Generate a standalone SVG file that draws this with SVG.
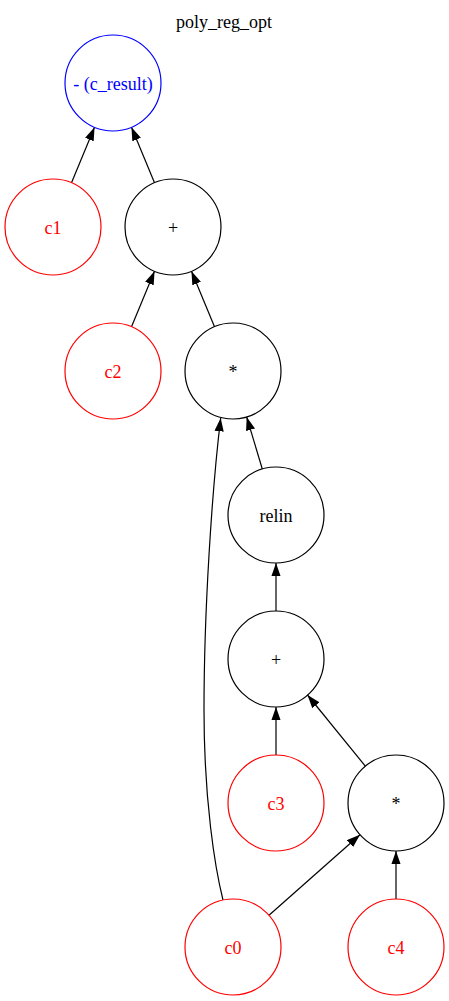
<svg xmlns="http://www.w3.org/2000/svg" width="449" height="1001" viewBox="0 0 449 1001">
<style>
text{font-family:"Liberation Serif","Times New Roman","DejaVu Serif",serif;font-size:18px;text-anchor:middle}
.n{fill:none;stroke:#000;stroke-width:1.2}
.r{fill:none;stroke:#ff0000;stroke-width:1.2}
.b{fill:none;stroke:#0000ff;stroke-width:1.2}
.tr{fill:#ff0000}
.tb{fill:#0000ff}
.e{fill:none;stroke:#000;stroke-width:1.2;marker-end:url(#ah)}
</style>
<defs>
<marker id="ah" viewBox="0 0 13.3 9.3" refX="13.3" refY="4.65" markerWidth="13.3" markerHeight="9.3" markerUnits="userSpaceOnUse" orient="auto">
<path d="M0,0 L13.3,4.65 L0,9.3 Z" fill="#000"/>
</marker>
</defs>
<rect width="449" height="1001" fill="#fff"/>
<text x="224" y="28">poly_reg_opt</text>
<g id="edges">
<path class="e" d="M71.5,182.7 L94.5,127.3"/>
<path class="e" d="M154.5,182.7 L131.5,127.3"/>
<path class="e" d="M131.5,326.7 L154.5,271.3"/>
<path class="e" d="M214.5,326.7 L191.5,271.3"/>
<path class="e" d="M262.3,469 L246.7,417"/>
<path class="e" d="M223,900 C215,868 204,800 204,710 C204,610 212,490 220.7,418"/>
<path class="e" d="M276,611 L276,563"/>
<path class="e" d="M276,755 L276,707"/>
<path class="e" d="M365.3,766.1 L307.5,695"/>
<path class="e" d="M269,915.2 L360,834.8"/>
<path class="e" d="M396,899 L396,851"/>
</g>
<g id="c_result"><circle class="b" cx="113" cy="83" r="48"/><text class="tb" x="113" y="89.5">- (c_result)</text></g>
<g id="c1"><circle class="r" cx="53" cy="227" r="48"/><text class="tr" x="53" y="233.5">c1</text></g>
<g id="add1"><circle class="n" cx="173" cy="227" r="48"/><text x="173" y="233.5">+</text></g>
<g id="c2"><circle class="r" cx="113" cy="371" r="48"/><text class="tr" x="113" y="377.5">c2</text></g>
<g id="mul1"><circle class="n" cx="233" cy="371" r="48"/><text x="233" y="377.5">*</text></g>
<g id="relin"><circle class="n" cx="276" cy="515" r="48"/><text x="276" y="521.5">relin</text></g>
<g id="add2"><circle class="n" cx="276" cy="659" r="48"/><text x="276" y="665.5">+</text></g>
<g id="c3"><circle class="r" cx="276" cy="803" r="48"/><text class="tr" x="276" y="809.5">c3</text></g>
<g id="mul2"><circle class="n" cx="396" cy="803" r="48"/><text x="396" y="809.5">*</text></g>
<g id="c0"><circle class="r" cx="233" cy="947" r="48"/><text class="tr" x="233" y="953.5">c0</text></g>
<g id="c4"><circle class="r" cx="396" cy="947" r="48"/><text class="tr" x="396" y="953.5">c4</text></g>
</svg>
